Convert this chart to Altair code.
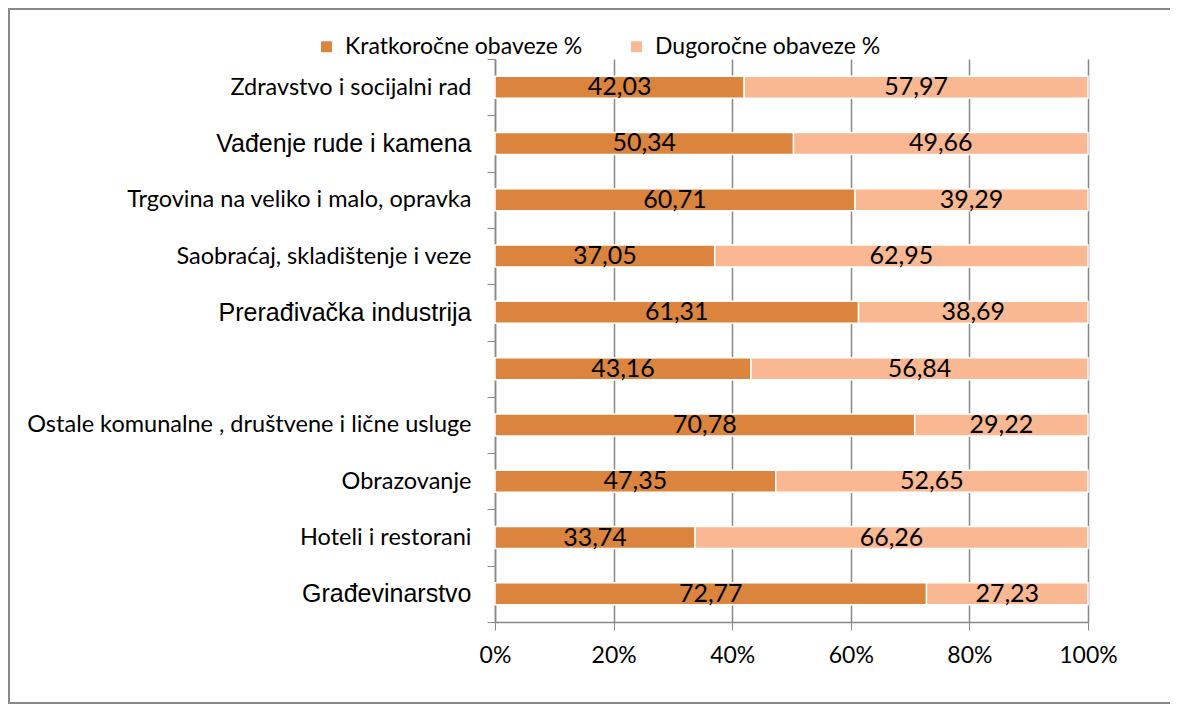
import altair as alt
import pandas as pd

categories = [
    "Zdravstvo i socijalni rad",
    "Vađenje rude i kamena",
    "Trgovina na veliko i malo, opravka",
    "Saobraćaj, skladištenje i veze",
    "Prerađivačka industrija",
    " ",
    "Ostale komunalne , društvene i lične usluge",
    "Obrazovanje ",
    "Hoteli i restorani",
    "Građevinarstvo",
]
kratkorocne = [42.03, 50.34, 60.71, 37.05, 61.31, 43.16, 70.78, 47.35, 33.74, 72.77]
dugorocne = [57.97, 49.66, 39.29, 62.95, 38.69, 56.84, 29.22, 52.65, 66.26, 27.23]
series = ["Kratkoročne obaveze %", "Dugoročne obaveze %"]
colors = ["#DA843E", "#F9B792"]
big_labels = ["Vađenje rude i kamena", "Prerađivačka industrija", "Građevinarstvo"]

rows = []
for c, k, d in zip(categories, kratkorocne, dugorocne):
    rows.append({"cat": c, "series": series[0], "value": k, "order": 0,
                 "label": f"{k:.2f}".replace(".", ",")})
    rows.append({"cat": c, "series": series[1], "value": d, "order": 1,
                 "label": f"{d:.2f}".replace(".", ",")})
df = pd.DataFrame(rows)

big_test = "indexof(" + str(big_labels).replace("'", '"') + ", datum.value) >= 0"

base = alt.Chart(df).transform_stack(
    stack="value", groupby=["cat"], as_=["v0", "v1"], offset="normalize",
    sort=[alt.SortField("order")]
).transform_calculate(mid="(datum.v0 + datum.v1) / 2")

y_enc = alt.Y(
    "cat:N", sort=categories, title=None,
    scale=alt.Scale(paddingInner=0, paddingOuter=0),
    axis=alt.Axis(
        tickBand="extent", tickSize=8, tickColor="#888888", domainColor="#888888",
        domainWidth=1.5, labelPadding=16, labelLimit=600, labelColor="#000000",
        labelFont={"condition": {"test": big_test, "value": "Liberation Sans"}, "value": "Lato"},
        labelFontSize={"condition": {"test": big_test, "value": 25}, "value": 23.5},
    ),
)

bars = base.mark_bar(size=22, stroke="white", strokeWidth=1.5).encode(
    y=y_enc,
    x=alt.X("v0:Q", title=None,
            scale=alt.Scale(domain=[0, 1], nice=False),
            axis=alt.Axis(format="%", values=[0, 0.2, 0.4, 0.6, 0.8, 1.0],
                          grid=True, gridColor="#888888", gridWidth=1.5,
                          tickSize=8, tickColor="#888888", domainColor="#888888",
                          domainWidth=1.5, labelPadding=14, labelFont="Lato",
                          labelFlush=False,
                          labelFontSize=23, labelColor="#000000")),
    x2="v1:Q",
    color=alt.Color("series:N", scale=alt.Scale(domain=series, range=colors),
                    legend=alt.Legend(orient="none", legendX=-180, legendY=-24,
                                      direction="horizontal", title=None,
                                      symbolType="square", symbolSize=120,
                                      symbolStrokeWidth=0,
                                      labelFont="Lato", labelFontSize=23,
                                      labelColor="#000000", labelLimit=400,
                                      columnPadding=42, labelOffset=7)),
    order=alt.Order("order:Q"),
)

texts = base.mark_text(font="Lato", fontSize=25, color="#000000", baseline="middle").encode(
    y=alt.Y("cat:N", sort=categories),
    x=alt.X("mid:Q"),
    text="label:N",
)

one = pd.DataFrame({"a": [0]})
frame_style = dict(stroke="#888888", strokeWidth=2)
frame_top = alt.Chart(one).mark_rule(**frame_style).encode(
    x=alt.value(-487), x2=alt.value(680), y=alt.value(-50))
frame_left = alt.Chart(one).mark_rule(**frame_style).encode(
    x=alt.value(-486), y=alt.value(-51), y2=alt.value(645))
frame_bottom = alt.Chart(one).mark_rule(**frame_style).encode(
    x=alt.value(-487), x2=alt.value(680), y=alt.value(644))

chart = alt.layer(frame_top, frame_left, frame_bottom, bars, texts).properties(
    width=593, height=563,
    autosize=alt.AutoSizeParams(type="none"),
    padding={"left": 487, "top": 51, "right": 82, "bottom": 82},
).configure_view(stroke=None)

chart.save("out.html", embed_options={"renderer": "svg", "actions": False})
